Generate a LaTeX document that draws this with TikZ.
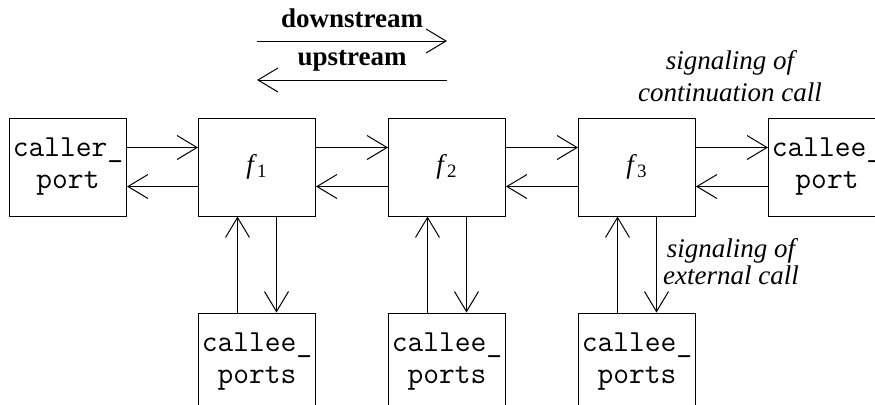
\documentclass[tikz,border=0pt]{standalone}
\usepackage{fontspec}
\setmainfont{Liberation Serif}
\tikzset{
every picture/.style={
line width=0.5pt
}}
\usetikzlibrary{arrows.meta}

\tikzset{
  port/.style={draw, minimum width=58.5pt, minimum height=49pt, inner sep=0pt,
    align=center, font=\ttfamily\fontsize{15.3}{16}\selectfont},
  fbox/.style={draw, minimum width=58.5pt, minimum height=49pt, inner sep=0pt,
    font=\fontsize{13.5}{16}\selectfont},
  sig/.style={-{Straight Barb[length=10pt,width=12pt]}},
  remark/.style={align=center, inner sep=0pt, font=\itshape\fontsize{13.5}{13.5}\selectfont},
  dirlabel/.style={inner sep=0pt, font=\bfseries\fontsize{13.5}{16}\selectfont}
}

\begin{document}
\begin{tikzpicture}[x=0.5pt,y=-0.5pt]
  \useasboundingbox (0,0) rectangle (875,404);
  \clip (0,0) rectangle (875,404);

  % stream directions
  \node [dirlabel,anchor=base] at (352,27) (down) {downstream};
  \node [dirlabel,anchor=base] at (352,65) (up) {upstream};
  \coordinate (dsL) at (257,41);
  \coordinate (dsR) at (447,41);
  \coordinate (usL) at (257,80);
  \coordinate (usR) at (447,80);
  \draw [sig] (dsL) -- (dsR);
  \draw [sig] (usR) -- (usL);

  % the chain: caller, three features, callee
  \node [port] at (68,167) (caller) {caller\_\\port};
  \node [port] at (827,167) (callee) {callee\_\\port};
  \foreach \i in {1,2,3} {
    \node [fbox] at (67+190*\i,167) (f\i) {\textit{f}\textsubscript{\i}};
    \node [port] at (67+190*\i,362) (ext\i) {callee\_\\ports};
    \draw [sig] ([xshift=-9.75pt]ext\i.north) -- ([xshift=-9.75pt]f\i.south);
    \draw [sig] ([xshift=9.75pt]f\i.south) -- ([xshift=9.75pt]ext\i.north);
  }
  \foreach \a/\b in {caller/f1, f1/f2, f2/f3, f3/callee} {
    \draw [sig] ([yshift=9.75pt]\a.east) -- ([yshift=9.75pt]\b.west);
    \draw [sig] ([yshift=-9.75pt]\b.west) -- ([yshift=-9.75pt]\a.east);
  }

  % base sits on the last line
  \node [remark,anchor=base] at (730,101) (contnote) {signaling of\\[2.5pt]continuation call};
  \node [remark,anchor=base] at (731,284) (extnote) {signaling of\\external call};
\end{tikzpicture}
\end{document}
